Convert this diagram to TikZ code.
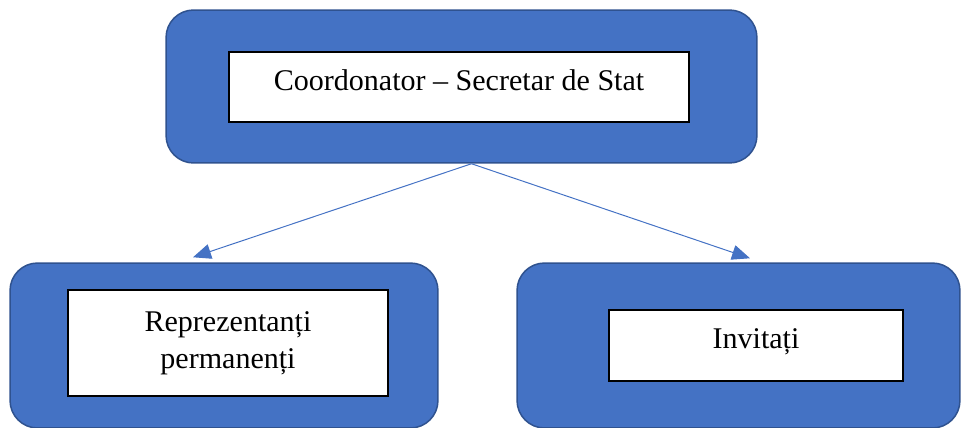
\documentclass[tikz,border=0pt]{standalone}
\usepackage{fontspec}
\setmainfont{Liberation Serif}
\usetikzlibrary{arrows.meta}
\definecolor{panelblue}{RGB}{68,114,196}
\definecolor{paneledge}{RGB}{47,82,143}
\tikzset{
    % Blue rounded panels
    panel/.style={
        rectangle, draw=paneledge, line width=0.03cm, fill=panelblue,
        rounded corners=0.55cm
    },
    % White text frames inside the panels
    textframe/.style={
        rectangle, draw=black, line width=0.03cm, fill=white,
        align=center, inner sep=0pt,
        font=\fontsize{17.1}{21}\selectfont
    },
    % Text sits a little high, as in the original
    lifted/.style={text height=0.5cm, text depth=0.38cm},
    link/.style={
        draw=panelblue, line width=0.02cm,
        -{Triangle[length=0.36cm,width=0.3cm]}
    }
}
\begin{document}
\begin{tikzpicture}[x=0.02cm, y=-0.02cm]
\useasboundingbox (0,0) rectangle (964,427);

% Top panel
\node[panel, minimum width=11.82cm, minimum height=3.06cm] (coordpanel) at (461.5,86.5) {};
\node[textframe, lifted, minimum width=9.2cm, minimum height=1.4cm] (coord) at (459,87) {Coordonator – Secretar de Stat};

% Bottom panels
\node[panel, minimum width=8.56cm, minimum height=3.3cm] (repspanel) at (224,345.5) {};
\node[textframe, minimum width=6.4cm, minimum height=2.12cm] (reps) at (228,343) {Reprezentanți\\permanenți};

\node[panel, minimum width=8.86cm, minimum height=3.3cm] (guestpanel) at (738.5,345.5) {};
\node[textframe, lifted, minimum width=5.88cm, minimum height=1.42cm] (guests) at (756,345.5) {Invitați};

% Arrows
\draw[link] ([xshift=0.2cm]coordpanel.south) -- ([xshift=-0.62cm,yshift=0.1cm]repspanel.north);
\draw[link] ([xshift=0.2cm]coordpanel.south) -- ([xshift=0.23cm,yshift=0.08cm]guestpanel.north);

\end{tikzpicture}
\end{document}
